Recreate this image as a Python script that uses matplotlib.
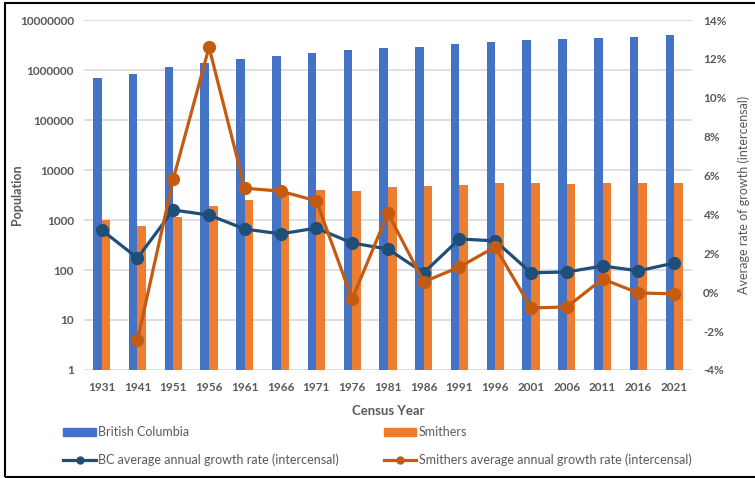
import numpy as np
import matplotlib.pyplot as plt
from matplotlib.patches import Rectangle
from matplotlib.lines import Line2D
from matplotlib.ticker import FuncFormatter, FixedLocator

plt.rcParams['font.family'] = ['Lato', 'DejaVu Sans']

years = ['1931', '1941', '1951', '1956', '1961', '1966', '1971', '1976', '1981',
         '1986', '1991', '1996', '2001', '2006', '2011', '2016', '2021']

bc_pop = [694263, 817861, 1165210, 1398464, 1629082, 1873674, 2184621, 2466608,
          2744467, 2883367, 3282061, 3724500, 3907738, 4113487, 4400057, 4648055,
          5000879]
smithers_pop = [1000, 760, 1150, 1950, 2500, 3500, 3900, 3800, 4570, 4700, 4950,
                5620, 5410, 5220, 5400, 5400, 5380]

# average annual growth since the previous census, in percent
bc_growth = [3.2, 1.76, 4.23, 3.97, 3.25, 3.0, 3.3, 2.53, 2.22, 1.0, 2.74, 2.64,
             1.0, 1.04, 1.35, 1.1, 1.5]
smithers_growth = [np.nan, -2.46, 5.82, 12.6, 5.35, 5.2, 4.7, -0.35, 4.07, 0.53,
                   1.3, 2.33, -0.81, -0.76, 0.68, -0.04, -0.08]

blue = '#4472C4'
orange = '#ED7D31'
dark_blue = '#1F4E79'
dark_orange = '#C55A11'
grey = '#595959'

fig = plt.figure(figsize=(7.55, 4.78), dpi=100)
ax = fig.add_axes([0.111, 0.226, 0.8056, 0.732])

x = np.arange(len(years))
w = 0.24
ax.bar(x - w / 2, bc_pop, width=w, color=blue, bottom=1, zorder=2)
ax.bar(x + w / 2, smithers_pop, width=w, color=orange, bottom=1, zorder=2)

ax.set_yscale('log')
ax.set_ylim(1, 1e7)
ax.set_xlim(-0.5, len(years) - 0.5)
ax.yaxis.set_major_locator(FixedLocator([10 ** k for k in range(8)]))
ax.yaxis.set_minor_locator(FixedLocator([]))
ax.yaxis.set_major_formatter(FuncFormatter(lambda v, p: '%d' % round(v)))
ax.set_xticks(x)
ax.set_xticklabels(years)
ax.grid(axis='y', color='#D9D9D9', linewidth=1.2, zorder=0)
ax.set_axisbelow(True)
for s in ax.spines.values():
    s.set_visible(False)
ax.tick_params(length=0, colors=grey, labelsize=8.5)
ax.tick_params(axis='x', pad=9)
ax.tick_params(axis='y', pad=7)
for lab in ax.get_xticklabels() + ax.get_yticklabels():
    lab.set_fontweight('bold')
ax.set_ylabel('Population', color=grey, fontsize=9, fontweight='bold')
ax.yaxis.set_label_coords(-0.10, 0.5)
ax.set_xlabel('Census Year', color=grey, fontsize=9.5, fontweight='bold', labelpad=8)

ax2 = ax.twinx()
ax2.plot(x, np.array(bc_growth) / 100, color=dark_blue, lw=2.3, marker='o',
         markersize=8.5, zorder=4)
ax2.plot(x, np.array(smithers_growth) / 100, color=dark_orange, lw=2.3, marker='o',
         markersize=8.5, zorder=5)
ax2.set_ylim(-0.04, 0.14)
ax2.set_yticks(np.arange(-0.04, 0.141, 0.02))
ax2.yaxis.set_major_formatter(FuncFormatter(lambda v, p: '%d%%' % round(v * 100)))
for s in ax2.spines.values():
    s.set_visible(False)
ax2.tick_params(length=0, colors=grey, labelsize=8.5, pad=8)
for lab in ax2.get_yticklabels():
    lab.set_fontweight('bold')
ax2.set_ylabel('Average rate of growth (intercensal)', color=grey, fontsize=9)
ax2.yaxis.set_label_coords(1.074, 0.5)

# legend in two separate columns under the plot
bar_bc = Rectangle((0, 0), 1, 1, color=blue)
bar_sm = Rectangle((0, 0), 1, 1, color=orange)
line_bc = Line2D([], [], color=dark_blue, lw=2.3, marker='o', markersize=5)
line_sm = Line2D([], [], color=dark_orange, lw=2.3, marker='o', markersize=5)
leg_kw = dict(frameon=False, fontsize=9, handlelength=2.6, handleheight=0.55,
              handletextpad=0.2, labelspacing=1.2, labelcolor=grey,
              borderaxespad=0, borderpad=0)
fig.legend([bar_bc, line_bc], ['British Columbia',
           'BC average annual growth rate (intercensal)'],
           loc='upper left', bbox_to_anchor=(0.084, 0.108), **leg_kw)
fig.legend([bar_sm, line_sm], ['Smithers',
           'Smithers average annual growth rate (intercensal)'],
           loc='upper left', bbox_to_anchor=(0.508, 0.108), **leg_kw)

fig.patches.append(Rectangle((0.0066, 0.002), 1.1, 0.992, transform=fig.transFigure,
                             fill=False, edgecolor='black', lw=1.5))

fig.savefig('out.png', dpi=100)
